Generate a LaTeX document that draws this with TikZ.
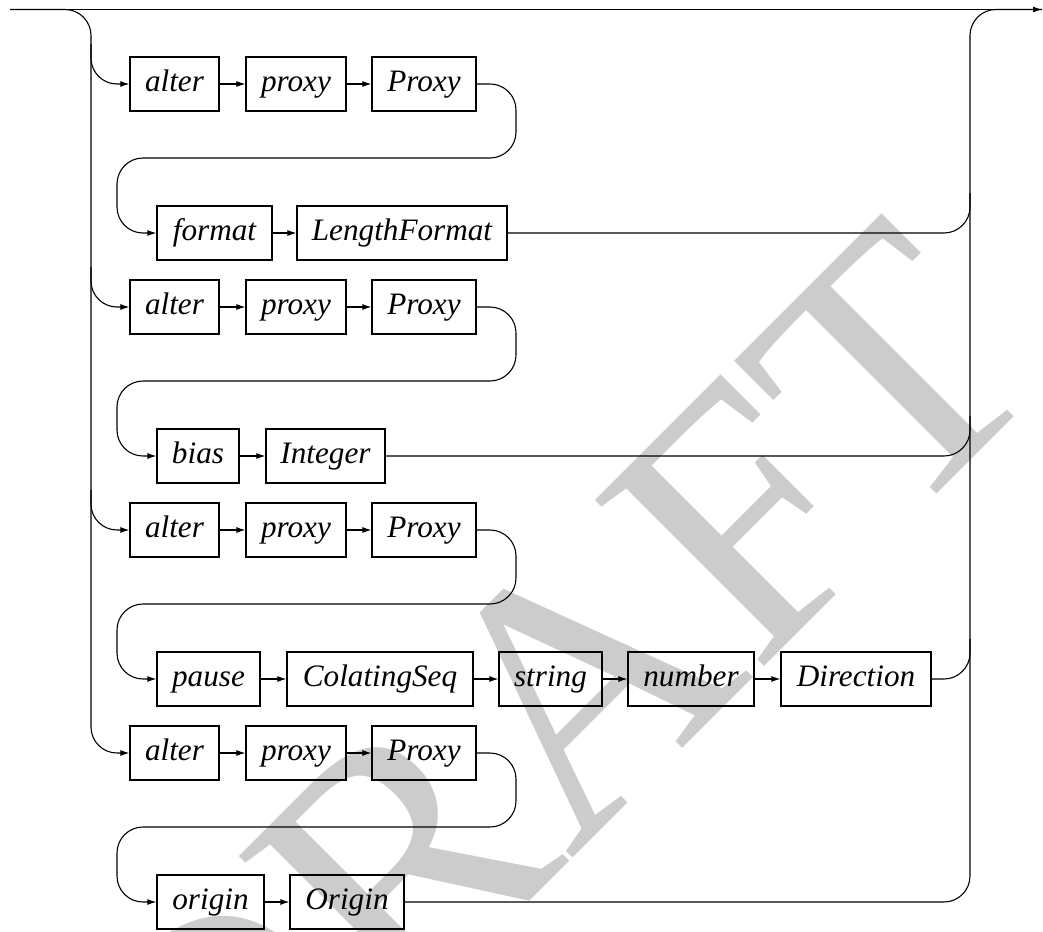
\documentclass[tikz,border=0pt]{standalone}
\usepackage{fontspec}
\setmainfont{Liberation Serif}
\usetikzlibrary{arrows.meta,calc}
\begin{document}
\begin{tikzpicture}[x=0.5pt,y=-0.5pt,
  box/.style={draw, line width=0.6pt, inner sep=0pt, minimum height=27pt,
    text height=11pt, text depth=3.3pt, font=\fontsize{15.6}{18}\selectfont\itshape},
  rail/.style={line width=0.55pt, rounded corners=13pt},
  line/.style={line width=0.55pt},
  arr/.style={-{Latex[length=4.5pt,width=3pt]}},
  wmark/.style={rotate=45, text=black!20, inner sep=0pt, font=\fontsize{181}{181}\selectfont}
]
\clip (0,0) rectangle (1043,931);
% watermark
\node[wmark] (wm) at (550,712) {DRAFT};

% rail coordinates
\coordinate (in) at (10,9.5);
\coordinate (out) at (1042,9.5);
\coordinate (L) at (91,9.5);
\coordinate (R) at (970,9.5);

% alternative A
\node[box, minimum width=44.5pt] (a1) at (174.5,84) {alter};
\node[box, minimum width=50pt]   (a2) at (296,84) {proxy};
\node[box, minimum width=52pt]   (a3) at (424,84) {Proxy};
\node[box, minimum width=57.5pt] (a4) at (214.5,233) {format};
\node[box, minimum width=105pt]  (a5) at (402,233) {LengthFormat};

% alternative B
\node[box, minimum width=44.5pt] (b1) at (174.5,307) {alter};
\node[box, minimum width=50pt]   (b2) at (296,307) {proxy};
\node[box, minimum width=52pt]   (b3) at (424,307) {Proxy};
\node[box, minimum width=41pt]   (b4) at (198,456) {bias};
\node[box, minimum width=59.5pt] (b5) at (325.5,456) {Integer};

% alternative C
\node[box, minimum width=44.5pt] (c1) at (174.5,530) {alter};
\node[box, minimum width=50pt]   (c2) at (296,530) {proxy};
\node[box, minimum width=52pt]   (c3) at (424,530) {Proxy};
\node[box, minimum width=51.5pt] (c4) at (208.5,679) {pause};
\node[box, minimum width=93pt]   (c5) at (380,679) {ColatingSeq};
\node[box, minimum width=51.5pt] (c6) at (550.5,679) {string};
\node[box, minimum width=63pt]   (c7) at (691,679) {number};
\node[box, minimum width=75pt]   (c8) at (856,679) {Direction};

% alternative D
\node[box, minimum width=44.5pt] (d1) at (174.5,753) {alter};
\node[box, minimum width=50pt]   (d2) at (296,753) {proxy};
\node[box, minimum width=52pt]   (d3) at (424,753) {Proxy};
\node[box, minimum width=53.5pt] (d4) at (210.5,902) {origin};
\node[box, minimum width=57pt]   (d5) at (347,902) {Origin};

% main straight line
\draw[line,arr] (in) -- (out);

% left rail and branches
\draw[rail,arr] (in) -- (L) -- (L |- d1) -- (d1.west);
\draw[rail,arr] ($(L |- a1)+(0,-40)$) -- (L |- a1) -- (a1.west);
\draw[rail,arr] ($(L |- b1)+(0,-40)$) -- (L |- b1) -- (b1.west);
\draw[rail,arr] ($(L |- c1)+(0,-40)$) -- (L |- c1) -- (c1.west);

% sequences
\foreach \r in {a,b,c,d}{
  \draw[line,arr] (\r1.east) -- (\r2.west);
  \draw[line,arr] (\r2.east) -- (\r3.west);
}
\draw[line,arr] (a4.east) -- (a5.west);
\draw[line,arr] (b4.east) -- (b5.west);
\draw[line,arr] (c4.east) -- (c5.west);
\draw[line,arr] (c5.east) -- (c6.west);
\draw[line,arr] (c6.east) -- (c7.west);
\draw[line,arr] (c7.east) -- (c8.west);
\draw[line,arr] (d4.east) -- (d5.west);

% wraps
\draw[rail,arr] (a3.east) -| (516,158) -| (117,233) -- (a4.west);
\draw[rail,arr] (b3.east) -| (516,381) -| (117,456) -- (b4.west);
\draw[rail,arr] (c3.east) -| (516,604) -| (117,679) -- (c4.west);
\draw[rail,arr] (d3.east) -| (516,827) -| (117,902) -- (d4.west);

% right rail and joins
\draw[rail] (a5.east) -| ($(R |- a5)+(0,-40)$);
\draw[rail] (b5.east) -| ($(R |- b5)+(0,-40)$);
\draw[rail] (c8.east) -| ($(R |- c8)+(0,-40)$);
\draw[rail] (d5.east) -| (R) -- (out);
\end{tikzpicture}
\end{document}
